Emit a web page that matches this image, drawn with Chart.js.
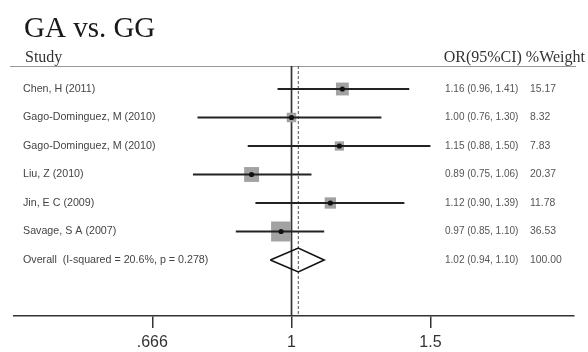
<!DOCTYPE html>
<html>
<head>
<meta charset="utf-8">
<script src="https://cdn.jsdelivr.net/npm/chart.js@4.4.1/dist/chart.umd.min.js"></script>
<style>
  html, body { margin: 0; padding: 0; background: #fff; }
</style>
</head>
<body>
<canvas id="forest" width="588" height="352"></canvas>
<script>
const studies = [
  "Chen, H (2011)",
  "Gago-Dominguez, M (2010)",
  "Gago-Dominguez, M (2010)",
  "Liu, Z (2010)",
  "Jin, E C (2009)",
  "Savage, S A (2007)"
];
const orValues = [1.16, 1.00, 1.15, 0.89, 1.12, 0.97];
const ciLow = [0.96, 0.76, 0.88, 0.75, 0.90, 0.85];
const ciHigh = [1.41, 1.30, 1.50, 1.06, 1.39, 1.10];
const weights = [15.17, 8.32, 7.83, 20.37, 11.78, 36.53];
const overallLabel = "Overall  (I-squared = 20.6%, p = 0.278)";
const overallOr = [1.02, 0.94, 1.10]; // estimate, low, high
const overallWeight = 100.00;
const tickValues = [0.666, 1, 1.5];
const tickLabels = [".666", "1", "1.5"];

const Y_MIN = -0.807, Y_MAX = 7.965;
const overallRow = studies.length;
const fmt = (v) => v.toFixed(2);

let datasets = [];

// black centre dots (drawn on top)
datasets.push({
  type: "scatter",
  data: orValues.map((v, i) => ({ x: v, y: i })),
  pointRadius: 2.6,
  pointStyle: "circle",
  backgroundColor: "#111",
  borderWidth: 0
});

// confidence interval lines
studies.forEach((s, i) => {
  datasets.push({
    type: "scatter",
    showLine: true,
    data: [{ x: ciLow[i], y: i }, { x: ciHigh[i], y: i }],
    borderColor: "#222",
    borderWidth: 2,
    pointRadius: 0
  });
});

// weight squares, side ~ sqrt(weight)
datasets.push({
  type: "scatter",
  data: orValues.map((v, i) => ({ x: v, y: i })),
  pointStyle: "rect",
  pointRadius: weights.map((w) => (3.3 * Math.sqrt(w)) / Math.SQRT2),
  backgroundColor: "#a2a2a2",
  borderWidth: 0
});

// overall diamond
const dh = 0.42;
datasets.push({
  type: "scatter",
  showLine: true,
  data: [
    { x: overallOr[1], y: overallRow },
    { x: overallOr[0], y: overallRow - dh },
    { x: overallOr[2], y: overallRow },
    { x: overallOr[0], y: overallRow + dh },
    { x: overallOr[1], y: overallRow }
  ],
  borderColor: "#111",
  borderWidth: 1.6,
  pointRadius: 0,
  fill: false
});

// dashed line at overall estimate
datasets.push({
  type: "scatter",
  showLine: true,
  data: [{ x: overallOr[0], y: Y_MIN }, { x: overallOr[0], y: Y_MAX }],
  borderColor: "#555",
  borderWidth: 1,
  borderDash: [3, 2],
  pointRadius: 0
});

// null line at 1
datasets.push({
  type: "scatter",
  showLine: true,
  data: [{ x: 1, y: Y_MIN }, { x: 1, y: Y_MAX }],
  borderColor: "#333",
  borderWidth: 1.7,
  pointRadius: 0
});

const textPlugin = {
  id: "forestText",
  beforeDatasetsDraw(chart) {
    const { ctx, chartArea } = chart;
    ctx.save();
    ctx.strokeStyle = "#999";
    ctx.lineWidth = 1;
    ctx.beginPath();
    ctx.moveTo(10, chartArea.top + 0.5);
    ctx.lineTo(576, chartArea.top + 0.5);
    ctx.stroke();
    ctx.restore();
  },
  afterDraw(chart) {
    const { ctx, scales } = chart;
    const y = scales.y;
    ctx.save();
    ctx.fillStyle = "#1a1a1a";
    ctx.textBaseline = "alphabetic";
    ctx.font = '29px "Liberation Serif"';
    ctx.fillText("GA vs. GG", 24, 37);
    ctx.font = '16px "Liberation Serif"';
    ctx.fillStyle = "#333";
    ctx.fillText("Study", 25, 62);
    ctx.textAlign = "right";
    ctx.fillText("OR(95%CI) %Weight", 585, 62);

    ctx.textAlign = "left";
    ctx.textBaseline = "middle";
    const rowText = (label, est, lo, hi, w, py) => {
      ctx.font = '10.7px "Liberation Sans"';
      ctx.fillStyle = "#444";
      ctx.fillText(label, 23, py);
      ctx.font = '10px "Liberation Sans"';
      ctx.fillStyle = "#555";
      ctx.fillText(fmt(est) + " (" + fmt(lo) + ", " + fmt(hi) + ")", 445, py);
      ctx.font = '10.4px "Liberation Sans"';
      ctx.fillText(fmt(w), 530, py);
    };
    studies.forEach((s, i) => {
      rowText(s, orValues[i], ciLow[i], ciHigh[i], weights[i], y.getPixelForValue(i));
    });
    rowText(overallLabel, overallOr[0], overallOr[1], overallOr[2], overallWeight, y.getPixelForValue(overallRow));
    ctx.restore();
  }
};

const chart = new Chart(document.getElementById("forest"), {
  type: "scatter",
  data: { datasets: datasets },
  options: {
    responsive: false,
    animation: false,
    devicePixelRatio: 1,
    layout: { padding: { top: 66, left: 10, right: 13, bottom: -6 } },
    plugins: { legend: { display: false }, tooltip: { enabled: false } },
    scales: {
      x: {
        type: "logarithmic",
        min: 0.445,
        max: 2.28,
        afterBuildTicks: (scale) => {
          scale.ticks = tickValues.map((v) => ({ value: v }));
        },
        ticks: {
          autoSkip: false,
          maxRotation: 0,
          padding: 5,
          color: "#333",
          font: { family: "Liberation Sans", size: 16, lineHeight: 1.25 },
          callback: (v, i) => tickLabels[i]
        },
        grid: { drawOnChartArea: false, drawTicks: true, tickLength: 12, color: "#333", lineWidth: 1.5 },
        border: { display: true, color: "#333", width: 1.5 }
      },
      y: {
        type: "linear",
        display: false,
        reverse: true,
        min: Y_MIN,
        max: Y_MAX
      }
    }
  },
  plugins: [textPlugin]
});
</script>
</body>
</html>
